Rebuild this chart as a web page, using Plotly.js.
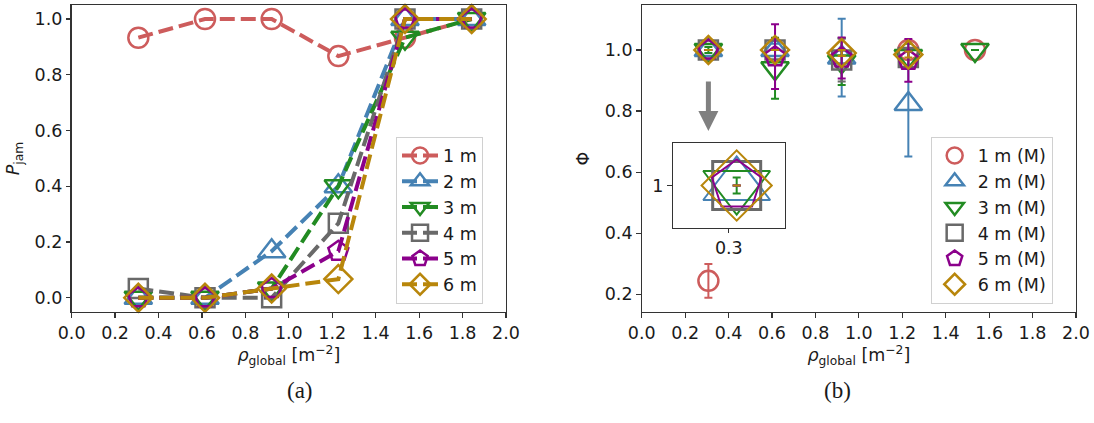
<!DOCTYPE html>
<html>
<head>
<meta charset="utf-8">
<script src="https://cdn.plot.ly/plotly-3.0.1.min.js"></script>
<style>html,body{margin:0;padding:0;background:#fff;}#chart{width:1094px;height:423px;}</style>
</head>
<body>
<div id="chart"></div>
<script>
// ---- data ----
const rhoGlobal = [0.307, 0.614, 0.921, 1.228, 1.535, 1.842];
const seriesNames = ['1 m', '2 m', '3 m', '4 m', '5 m', '6 m'];
const seriesNamesM = ['1 m (M)', '2 m (M)', '3 m (M)', '4 m (M)', '5 m (M)', '6 m (M)'];
// (a) jam probability
const pJam1m = [0.933, 1.0, 1.0, 0.867, 0.933, 1.0];
const pJam2m = [0.0, 0.0, 0.167, 0.4, 1.0, 1.0];
const pJam3m = [0.0, 0.0, 0.033, 0.4, 0.933, 1.0];
const pJam4m = [0.033, 0.0, 0.0, 0.267, 1.0, 1.0];
const pJam5m = [0.0, 0.0, 0.033, 0.167, 1.0, 1.0];
const pJam6m = [0.0, 0.0, 0.033, 0.067, 1.0, 1.0];
// (b) Phi with error bars (null = no point)
const phi1m = [0.244, null, null, 1.0, 1.0, null];
const phiErr1m = [0.055, 0, 0, 0.0, 0.0, 0];
const phi2m = [1.0, 1.0, 0.975, 0.823, null, null];
const phiErr2m = [0.0, 0.02, 0.127, 0.172, 0, 0];
const phi3m = [1.0, 0.94, 0.962, 0.98, 1.0, null];
const phiErr3m = [0.0095, 0.10, 0.077, 0.04, 0.0, 0];
const phi4m = [1.0, 1.0, 0.967, 0.975, null, null];
const phiErr4m = [0.0, 0.0, 0.07, 0.03, 0, 0];
const phi5m = [1.0, 0.978, 0.974, 0.966, null, null];
const phiErr5m = [0.0, 0.106, 0.067, 0.07, 0, 0];
const phi6m = [1.0, 1.0, 0.99, 0.985, null, null];
const phiErr6m = [0.0, 0.0, 0.01, 0.01, 0, 0];
const xTicks = [0.0, 0.2, 0.4, 0.6, 0.8, 1.0, 1.2, 1.4, 1.6, 1.8, 2.0];

// ---- styles ----
const colors = ['#cd5c5c', '#4682b4', '#228b22', '#696969', '#8b008b', '#b8860b'];
const symbols = ['circle-open', 'triangle-up-open', 'triangle-down-open', 'square-open', 'pentagon-open', 'diamond-open'];
const sizes = [20, 24, 24, 19, 21, 21.5];
const insetSizes = [50, 58, 58, 48, 52, 54];
const pJam = [pJam1m, pJam2m, pJam3m, pJam4m, pJam5m, pJam6m];
const phi = [phi1m, phi2m, phi3m, phi4m, phi5m, phi6m];
const phiErr = [phiErr1m, phiErr2m, phiErr3m, phiErr4m, phiErr5m, phiErr6m];

const FONT = 'DejaVu Sans';
const FS = 17.5;
const TXT = '#1a1a1a';
const traces = [];
for (let i = 0; i < 6; i++) {
  traces.push({
    type: 'scatter', mode: 'lines+markers', x: rhoGlobal, y: pJam[i], name: seriesNames[i],
    xaxis: 'x', yaxis: 'y', legend: 'legend',
    line: {color: colors[i], width: 4, dash: '15px,6px'},
    marker: {symbol: symbols[i], size: sizes[i], color: colors[i], line: {width: 2.5, color: colors[i]}},
    cliponaxis: false
  });
}
for (let i = 0; i < 6; i++) {
  traces.push({
    type: 'scatter', mode: 'markers', x: rhoGlobal, y: phi[i], name: seriesNamesM[i],
    xaxis: 'x2', yaxis: 'y2', legend: 'legend2',
    marker: {symbol: symbols[i], size: sizes[i], color: colors[i], line: {width: 2.5, color: colors[i]}},
    error_y: {type: 'data', array: phiErr[i], visible: true, color: colors[i], thickness: 2, width: 4},
    cliponaxis: false
  });
}
for (let i = 1; i < 6; i++) {
  traces.push({
    type: 'scatter', mode: 'markers', x: rhoGlobal, y: phi[i], name: seriesNamesM[i],
    xaxis: 'x3', yaxis: 'y3', showlegend: false,
    marker: {symbol: symbols[i], size: insetSizes[i], color: colors[i], line: {width: i === 3 ? 3 : 2, color: colors[i]}},
    error_y: {type: 'data', array: phiErr[i], visible: true, color: colors[i], thickness: 2, width: 4},
    cliponaxis: true
  });
}

const axBase = {
  showline: true, mirror: true, linecolor: '#333', linewidth: 1.2,
  ticks: 'outside', ticklen: 4.5, tickwidth: 1.2, tickcolor: '#333',
  showgrid: false, zeroline: false,
  tickfont: {family: FONT, size: FS, color: TXT}
};
const xTitle = {text: '<i>ρ</i><sub>global</sub> [m<sup>−2</sup>]', font: {family: FONT, size: FS, color: TXT}, standoff: 6};
const legendBase = {
  font: {family: FONT, size: FS, color: TXT},
  bgcolor: 'rgba(255,255,255,0.8)', bordercolor: '#d0d0d0', borderwidth: 1,
  xanchor: 'left', yanchor: 'top', itemwidth: 36, tracegroupgap: 0
};

const layout = {
  width: 1094, height: 423, autosize: false,
  margin: {l: 0, r: 0, t: 0, b: 0},
  paper_bgcolor: '#fff', plot_bgcolor: '#fff',
  showlegend: true,
  xaxis: Object.assign({}, axBase, {domain: [0.0655, 0.4625], range: [0, 2], tickvals: xTicks, tickformat: '.1f', title: xTitle, anchor: 'y'}),
  yaxis: Object.assign({}, axBase, {domain: [0.2624, 0.988], range: [-0.051, 1.05], tickvals: [0, 0.2, 0.4, 0.6, 0.8, 1.0], tickformat: '.1f', anchor: 'x',
    title: {text: '<i>P</i><sub>jam</sub>', font: {family: FONT, size: FS, color: TXT}, standoff: 10}}),
  xaxis2: Object.assign({}, axBase, {domain: [0.5866, 0.9835], range: [0, 2], tickvals: xTicks, tickformat: '.1f', title: xTitle, anchor: 'y2'}),
  yaxis2: Object.assign({}, axBase, {domain: [0.2624, 0.988], range: [0.142, 1.147], tickvals: [0.2, 0.4, 0.6, 0.8, 1.0], tickformat: '.1f', anchor: 'x2',
    title: {text: 'Φ', font: {family: FONT, size: FS, color: TXT}, standoff: 10}}),
  xaxis3: Object.assign({}, axBase, {domain: [0.6149, 0.7175], range: [0.25, 0.35], tickvals: [0.3], ticktext: ['0.3'], anchor: 'y3'}),
  yaxis3: Object.assign({}, axBase, {domain: [0.4617, 0.6612], range: [0.95, 1.05], tickvals: [1], ticktext: ['1'], anchor: 'x3'}),
  legend: Object.assign({}, legendBase, {x: 0.362, y: 0.677}),
  legend2: Object.assign({}, legendBase, {x: 0.8507, y: 0.677}),
  annotations: [
    {xref: 'x2', yref: 'y2', axref: 'x2', ayref: 'y2', x: 0.307, y: 0.735, ax: 0.307, ay: 0.902,
     showarrow: true, arrowcolor: '#808080', arrowwidth: 5, arrowhead: 2, arrowsize: 0.8, text: ''},
    {xref: 'paper', yref: 'paper', x: 0.2605, y: 0.0426, showarrow: false, text: '(a)',
     font: {family: 'Liberation Serif', size: 23, color: TXT}},
    {xref: 'paper', yref: 'paper', x: 0.7797, y: 0.0426, showarrow: false, text: '(b)',
     font: {family: 'Liberation Serif', size: 23, color: TXT}}
  ]
};

Plotly.newPlot('chart', traces, layout, {displayModeBar: false, staticPlot: true});
</script>
</body>
</html>
